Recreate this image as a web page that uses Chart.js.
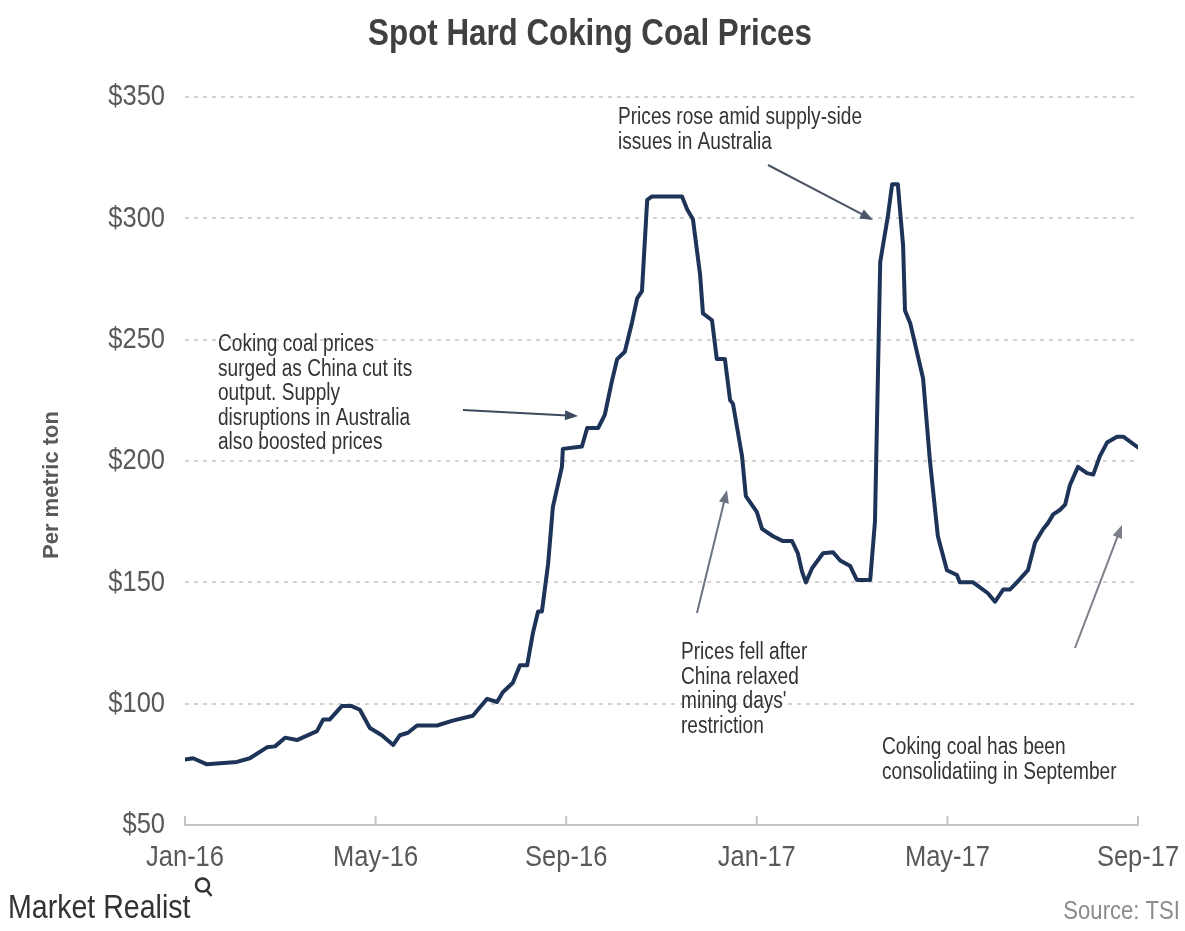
<!DOCTYPE html>
<html>
<head>
<meta charset="utf-8">
<title>Spot Hard Coking Coal Prices</title>
<script src="https://cdn.jsdelivr.net/npm/chart.js@4.4.1/dist/chart.umd.min.js"></script>
<style>
  html, body { margin: 0; padding: 0; background: #fff; }
  #wrap { width: 1185px; height: 931px; }
</style>
</head>
<body>
<div id="wrap"><canvas id="coal_chart" width="1185" height="931"></canvas></div>
<script>
// position of each reading, in months after Jan-16
const month_pos = [
    0.00, 0.17, 0.46, 1.09, 1.36, 1.72, 1.89, 2.10, 2.35, 2.77,
    2.90, 3.04, 3.29, 3.50, 3.67, 3.88, 4.13, 4.37, 4.51, 4.68,
    4.87, 5.29, 5.62, 6.04, 6.34, 6.55, 6.67, 6.88, 7.03, 7.18,
    7.30, 7.41, 7.49, 7.62, 7.72, 7.91, 7.93, 8.33, 8.44, 8.67,
    8.81, 8.96, 9.07, 9.23, 9.38, 9.49, 9.59, 9.70, 9.80, 10.43,
    10.54, 10.66, 10.81, 10.87, 11.06, 11.16, 11.33, 11.44, 11.50, 11.69,
    11.77, 12.00, 12.11, 12.34, 12.55, 12.74, 12.86, 12.95, 13.03, 13.16,
    13.39, 13.60, 13.75, 13.96, 14.10, 14.38, 14.48, 14.59, 14.75, 14.84,
    14.96, 15.07, 15.11, 15.22, 15.49, 15.63, 15.80, 15.99, 16.20, 16.26,
    16.54, 16.85, 17.00, 17.17, 17.31, 17.46, 17.69, 17.84, 18.01, 18.11,
    18.22, 18.36, 18.47, 18.57, 18.74, 18.93, 19.06, 19.20, 19.35, 19.56,
    19.69, 20.00
];

// spot price, US$ per metric ton
const price = [
    77, 77.5, 75, 76, 77.5, 82, 82.4, 86, 85, 88.7,
    93.5, 93.5, 99, 99, 97.5, 90, 87, 83, 87, 88,
    91, 91, 93, 95, 102, 100.7, 104.7, 108.6, 115.8, 115.8,
    129, 138, 138, 157.6, 181, 197.6, 205, 206, 213.6, 213.6,
    219, 233, 242, 245, 257, 267, 270, 307.6, 309, 309,
    303.6, 299.6, 276.8, 260.8, 258, 242, 242, 225, 223.6, 202,
    185.5, 179, 172, 169, 167, 167, 162, 154.4, 150, 155.8,
    162, 162.4, 159, 156.7, 151, 151, 175, 282, 300.8, 314,
    314, 288.8, 262, 256.8, 234, 200.8, 169, 155, 153, 150,
    150, 145.5, 142, 147, 147, 150, 155, 166.4, 172, 174.4,
    178, 179.8, 182, 190, 197.6, 195, 194.4, 202, 207.6, 210,
    210, 205.6
];

const x_tick_labels = ["Jan-16", "May-16", "Sep-16", "Jan-17", "May-17", "Sep-17"];
const y_ticks       = [50, 100, 150, 200, 250, 300, 350];

const chart_title = "Spot Hard Coking Coal Prices";
const y_title     = "Per metric ton";

// notes on the chart: text lines, text anchor (px) and arrow (px)
const notes = [
    { lines: ["Coking coal prices", "surged as China cut its", "output. Supply", "disruptions in Australia", "also boosted prices"],
      x: 218, y: 345, arrow: [463, 410, 578, 416], color: "#3e4a5e" },
    { lines: ["Prices rose amid supply-side", "issues in Australia"],
      x: 618, y: 118, arrow: [768, 165, 873, 220], color: "#4b5566" },
    { lines: ["Prices fell after", "China relaxed", "mining days'", "restriction"],
      x: 681, y: 653, arrow: [697, 613, 727, 490], color: "#6b7280" },
    { lines: ["Coking coal has been", "consolidatiing in September"],
      x: 882, y: 748, arrow: [1075, 648, 1122, 525], color: "#7a7f88" }
];

const SANS = "'Liberation Sans', Arial, sans-serif";


// no narrow face installed, so squeeze the normal one
function narrow_text(ctx, text, x, y, sx){
    ctx.save();
    ctx.translate(x, y);
    ctx.scale(sx, 1);
    ctx.fillText(text, 0, 0);
    ctx.restore();
}


function draw_arrow(ctx, x1, y1, x2, y2, color){
    let ang = Math.atan2(y2 - y1, x2 - x1);
    let head = 13;
    ctx.strokeStyle = color;
    ctx.fillStyle   = color;
    ctx.lineWidth   = 2;
    ctx.beginPath();
    ctx.moveTo(x1, y1);
    ctx.lineTo(x2 - Math.cos(ang) * head * 0.8, y2 - Math.sin(ang) * head * 0.8);
    ctx.stroke();
    ctx.beginPath();
    ctx.moveTo(x2, y2);
    ctx.lineTo(x2 - head * Math.cos(ang) + 5 * Math.sin(ang), y2 - head * Math.sin(ang) - 5 * Math.cos(ang));
    ctx.lineTo(x2 - head * Math.cos(ang) - 5 * Math.sin(ang), y2 - head * Math.sin(ang) + 5 * Math.cos(ang));
    ctx.closePath();
    ctx.fill();
}


// title, tick labels, axis title, notes, tick marks and footer
const decor_plugin = {
    id: "decor",
    afterDraw(chart){
        const ctx  = chart.ctx;
        const area = chart.chartArea;
        const xs   = chart.scales.x;
        const ys   = chart.scales.y;
        ctx.save();

        // small tick marks on the x axis (pointing up)
        ctx.strokeStyle = "#c4c4c4";
        ctx.lineWidth = 2;
        for (let t of xs.ticks){
            let px = xs.getPixelForValue(t.value);
            ctx.beginPath();
            ctx.moveTo(px, area.bottom);
            ctx.lineTo(px, area.bottom - 9);
            ctx.stroke();
        }

        // tick labels
        ctx.fillStyle = "#595959";
        ctx.font = "30px " + SANS;
        ctx.textBaseline = "middle";
        ctx.textAlign = "right";
        for (let t of ys.ticks){
            narrow_text(ctx, "$" + t.value, area.left - 20, ys.getPixelForValue(t.value), 0.85);
        }
        ctx.textAlign = "center";
        for (let t of xs.ticks){
            narrow_text(ctx, x_tick_labels[Math.round(t.value / 4)], xs.getPixelForValue(t.value), 858, 0.85);
        }

        ctx.fillStyle = "#404040";
        ctx.font = "bold 36px " + SANS;
        narrow_text(ctx, chart_title, 590, 35, 0.87);

        ctx.save();
        ctx.translate(52, 485);
        ctx.rotate(-Math.PI / 2);
        ctx.fillStyle = "#595959";
        ctx.font = "bold 22px " + SANS;
        ctx.fillText(y_title, 0, 0);
        ctx.restore();

        ctx.textAlign = "left";
        ctx.font = "23px " + SANS;
        for (let n of notes){
            ctx.fillStyle = "#333333";
            for (let i = 0; i < n.lines.length; i++){
                narrow_text(ctx, n.lines[i], n.x, n.y + i * 24.5, 0.83);
            }
            draw_arrow(ctx, n.arrow[0], n.arrow[1], n.arrow[2], n.arrow[3], n.color);
        }

        // footer
        ctx.fillStyle = "#333333";
        ctx.font = "34px " + SANS;
        ctx.textBaseline = "alphabetic";
        narrow_text(ctx, "Market Realist", 8, 918, 0.84);
        let lw = ctx.measureText("Market Realist").width * 0.84;
        ctx.strokeStyle = "#333333";
        ctx.lineWidth = 2.5;
        ctx.beginPath();
        ctx.arc(8 + lw + 12, 885, 6.5, 0, Math.PI * 2);
        ctx.stroke();
        ctx.beginPath();
        ctx.moveTo(8 + lw + 16, 890);
        ctx.lineTo(8 + lw + 21, 896);
        ctx.stroke();

        ctx.fillStyle = "#8c8c8c";
        ctx.font = "26px " + SANS;
        ctx.textAlign = "right";
        ctx.textBaseline = "middle";
        narrow_text(ctx, "Source: TSI", 1180, 912, 0.85);

        ctx.restore();
    }
};


window.addEventListener("load", function (){
    draw_price_chart();
});


function draw_price_chart(){

    let points = [];
    for (let i = 0; i < month_pos.length; i++){
        points.push({ x: month_pos[i], y: price[i] });
    }

    const ctx = document.getElementById("coal_chart").getContext("2d");
    const coal_chart = new Chart(ctx, {
        type: "line",
        data: {
            datasets: [{
                label: "Spot hard coking coal",
                data: points,
                borderColor: "#1d3358",
                borderWidth: 4,
                pointRadius: 0,
                tension: 0,
                borderJoinStyle: "round",
                borderCapStyle: "round",
                fill: false
            }]
        },
        options: {
            responsive: false,
            animation: false,
            devicePixelRatio: 1,
            layout: { padding: { left: 0, right: 47, top: 97, bottom: 46 } },
            plugins: {
                legend: { display: false },
                tooltip: { enabled: false }
            },
            scales: {
                x: {
                    type: "linear",
                    min: 0,
                    max: 20,
                    grid: { display: false, drawTicks: false },
                    border: { display: true, color: "#c4c4c4", width: 2 },
                    afterFit: function (scale){ scale.height = 60; },
                    ticks: { stepSize: 4, autoSkip: false, display: false }
                },
                y: {
                    min: y_ticks[0],
                    max: y_ticks[y_ticks.length - 1],
                    afterFit: function (scale){ scale.width = 185; },
                    afterBuildTicks: function (scale){
                        scale.ticks = y_ticks.map(function (v){ return { value: v }; });
                    },
                    grid: { color: "#d3d3d3", lineWidth: 2, drawTicks: false },
                    border: { display: false, dash: [4, 5] },
                    ticks: { display: false }
                }
            }
        },
        plugins: [decor_plugin]
    });
}
</script>
</body>
</html>
